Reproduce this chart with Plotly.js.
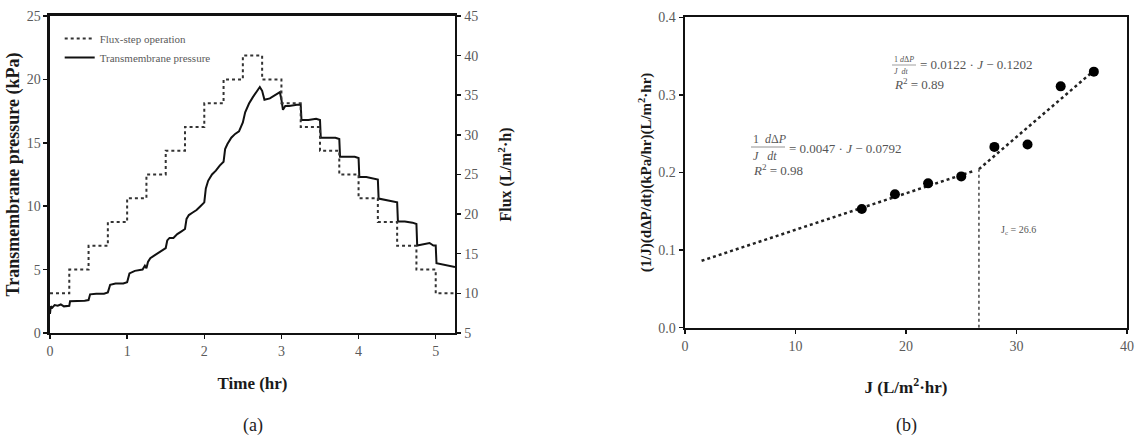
<!DOCTYPE html>
<html>
<head>
<meta charset="utf-8">
<script src="https://cdn.plot.ly/plotly-3.0.1.min.js"></script>
<style>html,body{margin:0;padding:0;background:#fff;}#chart{width:1148px;height:437px;}</style>
</head>
<body>
<div id="chart"></div>
<script>
// ---- Panel (a) data ----
const fluxTime = [0,0.25,0.5,0.75,1.0,1.25,1.5,1.75,2.0,2.25,2.5,2.75,3.0,3.25,3.5,3.75,4.0,4.25,4.5,4.75,5.0,5.25];
const fluxLevels = [10,13,16,19,22,25,28,31,34,37,40,37,34,31,28,25,22,19,16,13,10,10];

const tmpTime = [0,0.01,0.03,0.06,0.1,0.14,0.18,0.22,0.25,0.26,0.35,0.45,0.5,0.52,0.6,0.7,0.75,0.78,0.85,0.95,1.0,1.03,1.1,1.2,1.23,1.25,1.27,1.3,1.35,1.4,1.45,1.5,1.52,1.55,1.6,1.65,1.7,1.75,1.77,1.8,1.85,1.9,1.95,2.0,2.02,2.05,2.1,2.15,2.2,2.25,2.27,2.3,2.35,2.4,2.45,2.5,2.53,2.58,2.63,2.68,2.72,2.75,2.78,2.85,2.92,2.98,3.0,3.02,3.05,3.1,3.2,3.25,3.26,3.35,3.45,3.5,3.51,3.6,3.7,3.75,3.76,3.85,3.95,4.0,4.01,4.1,4.2,4.25,4.26,4.35,4.45,4.5,4.51,4.6,4.7,4.75,4.76,4.85,4.92,4.97,5.0,5.01,5.1,5.2,5.25];
const tmpKPa = [1.5,2.1,2.0,2.2,2.15,2.25,2.1,2.1,2.15,2.5,2.5,2.55,2.6,3.05,3.1,3.1,3.2,3.8,3.9,3.9,4.0,4.7,4.9,5.0,5.3,5.1,5.6,5.9,6.1,6.3,6.5,6.7,7.3,7.5,7.5,7.8,8.0,8.2,9.0,9.3,9.5,9.7,10.0,10.3,11.4,12.0,12.5,12.8,13.2,13.5,14.5,14.9,15.4,15.7,15.9,16.6,17.4,18.1,18.6,19.0,19.4,19.1,18.4,18.5,18.8,19.0,18.4,17.6,17.9,17.9,18.0,18.0,16.8,16.8,16.9,16.8,15.4,15.4,15.4,15.3,13.9,13.9,13.9,13.8,12.3,12.3,12.2,12.1,10.6,10.5,10.4,10.3,8.8,8.8,8.7,8.6,6.9,7.0,7.1,6.9,6.9,5.5,5.4,5.3,5.2];

// ---- Panel (b) data ----
const fluxJ = [16,19,22,25,28,31,34,37];
const resistance = [0.153,0.172,0.186,0.195,0.233,0.236,0.311,0.330];
const fitSlopes = [0.0047, 0.0122];
const fitIntercepts = [0.0792, -0.1202];
const fitRanges = [[1.5, 26.1], [26.6, 37]];
const criticalFlux = 26.6;

const fitLine = (i) => ({
  x: fitRanges[i],
  y: fitRanges[i].map(j => fitSlopes[i]*j + fitIntercepts[i])
});

const serif = 'Liberation Serif, Times New Roman, serif';
const grey = '#5a5a5a';
const eqGrey = '#555';

const f1 = fitLine(0), f2 = fitLine(1);
const jcY = fitSlopes[1]*criticalFlux + fitIntercepts[1];

const traces = [
  {x: fluxTime, y: fluxLevels, xaxis:'x', yaxis:'y2', mode:'lines', line:{shape:'hv', dash:'dot', width:2, color:'#333'}, name:'Flux-step operation'},
  {x: tmpTime, y: tmpKPa, xaxis:'x', yaxis:'y', mode:'lines', line:{width:2, color:'#111'}, name:'Transmembrane pressure'},
  {x: f1.x, y: f1.y, xaxis:'x3', yaxis:'y3', mode:'lines', line:{dash:'dot', width:2.5, color:'#222'}, showlegend:false},
  {x: f2.x, y: f2.y, xaxis:'x3', yaxis:'y3', mode:'lines', line:{dash:'dot', width:2.5, color:'#222'}, showlegend:false},
  {x: [criticalFlux, criticalFlux], y: [0, jcY], xaxis:'x3', yaxis:'y3', mode:'lines', line:{dash:'dot', width:1.5, color:'#444'}, showlegend:false},
  {x: fluxJ, y: resistance, xaxis:'x3', yaxis:'y3', mode:'markers', marker:{size:10, color:'#000'}, showlegend:false}
];

const axisCommon = {
  showline:true, linecolor:'#111', linewidth:2.5, ticks:'outside', ticklen:4, tickwidth:1.5, tickcolor:'#111',
  showgrid:false, zeroline:false, tickfont:{family:serif, size:14, color:grey}
};
const titleFont = (s) => ({family:serif, size:s, color:'#1a1a1a'});

const layout = {
  width:1148, height:437,
  margin:{l:0, r:0, t:0, b:0},
  paper_bgcolor:'#fff', plot_bgcolor:'#fff',
  showlegend:true,
  legend:{x:0.052, y:0.945, xanchor:'left', yanchor:'top', bgcolor:'rgba(0,0,0,0)', font:{family:serif, size:11, color:grey}, tracegroupgap:0, itemwidth:30},
  xaxis: Object.assign({}, axisCommon, {domain:[0.04355, 0.39634], range:[0,5.25], dtick:1, anchor:'y', mirror:true,
    title:{text:'<b>Time (hr)</b>', font:titleFont(17), standoff:19}}),
  yaxis: Object.assign({}, axisCommon, {domain:[0.238, 0.9634], range:[0,25], dtick:5, anchor:'x',
    title:{text:'<b>Transmembrane pressure (kPa)</b>', font:titleFont(18), standoff:3}}),
  yaxis2: Object.assign({}, axisCommon, {overlaying:'y', side:'right', anchor:'x', range:[5,45], dtick:5,
    title:{text:'<b>Flux (L/m<sup>2</sup>·h)</b>', font:titleFont(16), standoff:23}}),
  xaxis3: Object.assign({}, axisCommon, {domain:[0.5967, 0.9817], range:[0,40], dtick:10, anchor:'y3', mirror:true,
    title:{text:'<b>J (L/m<sup>2</sup>·hr)</b>', font:titleFont(17), standoff:28}}),
  yaxis3: Object.assign({}, axisCommon, {domain:[0.2501, 0.9604], range:[0,0.4], dtick:0.1, tickformat:'.1f', anchor:'x3', mirror:true,
    title:{text:'<b>(1/J)(dΔP/dt)(kPa/hr)(L/m<sup>2</sup>·hr)</b>', font:titleFont(15), standoff:3}}),
  annotations: [
    {xref:'paper', yref:'paper', x:253/1148, y:1-425/437, text:'(a)', showarrow:false, font:{family:serif, size:18, color:'#222'}, xanchor:'center', yanchor:'middle'},
    {xref:'paper', yref:'paper', x:906/1148, y:1-425/437, text:'(b)', showarrow:false, font:{family:serif, size:18, color:'#222'}, xanchor:'center', yanchor:'middle'},
    // equation 1
    {xref:'paper', yref:'paper', x:751/1148, y:1-139/437, text:'1  <i>d</i>Δ<i>P</i>', showarrow:false, xanchor:'left', yanchor:'middle', font:{family:serif, size:12, color:eqGrey}},
    {xref:'paper', yref:'paper', x:751/1148, y:1-156/437, text:'<i>J</i>   <i>dt</i>', showarrow:false, xanchor:'left', yanchor:'middle', font:{family:serif, size:12, color:eqGrey}},
    {xref:'paper', yref:'paper', x:787/1148, y:1-148/437, text:'= 0.0047 · <i>J</i> − 0.0792', showarrow:false, xanchor:'left', yanchor:'middle', font:{family:serif, size:13, color:eqGrey}},
    {xref:'paper', yref:'paper', x:751/1148, y:1-170/437, text:'<i>R</i><sup>2</sup> = 0.98', showarrow:false, xanchor:'left', yanchor:'middle', font:{family:serif, size:13, color:eqGrey}},
    // equation 2
    {xref:'paper', yref:'paper', x:892/1148, y:1-59/437, text:'1 <i>d</i>Δ<i>P</i>', showarrow:false, xanchor:'left', yanchor:'middle', font:{family:serif, size:8, color:eqGrey}},
    {xref:'paper', yref:'paper', x:892/1148, y:1-71/437, text:'<i>J</i>  <i>dt</i>', showarrow:false, xanchor:'left', yanchor:'middle', font:{family:serif, size:8, color:eqGrey}},
    {xref:'paper', yref:'paper', x:918/1148, y:1-65/437, text:'= 0.0122 · <i>J</i> − 0.1202', showarrow:false, xanchor:'left', yanchor:'middle', font:{family:serif, size:13, color:eqGrey}},
    {xref:'paper', yref:'paper', x:892/1148, y:1-84/437, text:'<i>R</i><sup>2</sup> = 0.89', showarrow:false, xanchor:'left', yanchor:'middle', font:{family:serif, size:13, color:eqGrey}},
    // Jc label
    {xref:'paper', yref:'paper', x:999/1148, y:1-231/437, text:'J<sub>c</sub> = 26.6', showarrow:false, xanchor:'left', yanchor:'middle', font:{family:serif, size:10, color:eqGrey}}
  ],
  shapes: [
    {type:'line', xref:'paper', yref:'paper', x0:751/1148, x1:785/1148, y0:1-147/437, y1:1-147/437, line:{color:'#777', width:0.8}},
    {type:'line', xref:'paper', yref:'paper', x0:892/1148, x1:916/1148, y0:1-65/437, y1:1-65/437, line:{color:'#777', width:0.7}}
  ]
};

Plotly.newPlot('chart', traces, layout, {staticPlot:true, displayModeBar:false});
</script>
</body>
</html>
